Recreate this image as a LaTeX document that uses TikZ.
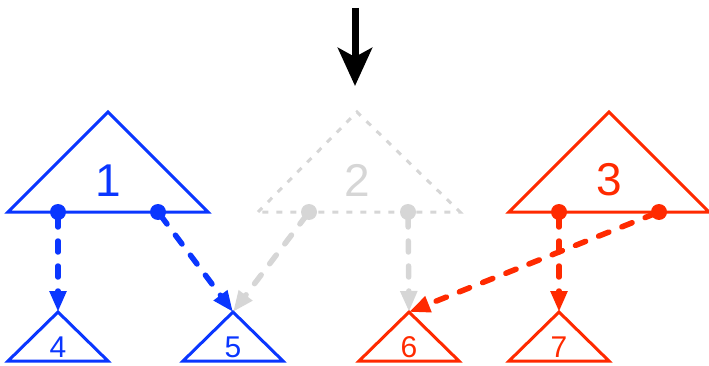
\documentclass[tikz,border=0pt]{standalone}
\usepackage{fontspec}
\setmainfont{Liberation Sans}
\usetikzlibrary{arrows.meta}
\definecolor{cblue}{HTML}{0A36FF}
\definecolor{cred}{HTML}{FF2A00}
\definecolor{cgray}{HTML}{D6D6D6}
\begin{document}
\begin{tikzpicture}[x=1pt,y=-1pt,
  tri/.style={line width=3pt,line join=miter},
  gtri/.style={line width=3pt,cgray,dash pattern=on 6pt off 8pt},
  dot/.style={circle,fill,inner sep=0pt,minimum size=16pt},
  link/.style={line width=5.5pt,line cap=round,dash pattern=on 11pt off 14pt,
    -{Triangle[length=21pt,width=16pt,line cap=butt]},shorten <=4pt},
  big/.style={font=\fontsize{46}{46}\selectfont,inner sep=0pt},
  small/.style={font=\fontsize{30}{30}\selectfont,inner sep=0pt}]
\useasboundingbox (0,0) rectangle (709,366);
% big triangles
\draw[tri,cblue] (8,212) -- (108,112) -- (208,212) -- cycle;
\draw[gtri] (258,212) -- (357,112) -- (460,212) -- cycle;
\draw[tri,cred] (509,212) -- (609,112) -- (709,212) -- cycle;
\node[big,text=cblue] (l1) at (108,181) {1};
\node[big,text=cgray] (l2) at (357,180) {2};
\node[big,text=cred] (l3) at (609,180) {3};
% small triangles
\draw[tri,cblue] (8,361) -- (58,312) -- (108,361) -- cycle;
\draw[tri,cblue] (183,361) -- (233,312) -- (283,361) -- cycle;
\draw[tri,cred] (359,361) -- (409,312) -- (459,361) -- cycle;
\draw[tri,cred] (509,361) -- (559,312) -- (609,361) -- cycle;
\node[small,text=cblue] (l4) at (58,347) {4};
\node[small,text=cblue] (l5) at (233,347) {5};
\node[small,text=cred] (l6) at (409,347) {6};
\node[small,text=cred] (l7) at (559,347) {7};
\coordinate (t4) at (58,312);
\coordinate (t5) at (233,312);
\coordinate (t6) at (409,312);
\coordinate (t7) at (559,312);
% dots
\node[dot,cblue] (d1a) at (58,212) {};
\node[dot,cblue] (d1b) at (158,212) {};
\node[dot,cgray] (d2a) at (309,212) {};
\node[dot,cgray] (d2b) at (408,212) {};
\node[dot,cred] (d3a) at (559,212) {};
\node[dot,cred] (d3b) at (659,212) {};
% links
\draw[link,cgray] (d2a.center) -- (t5);
\draw[link,cgray] (d2b.center) -- (t6);
\draw[link,cblue] (d1a.center) -- (t4);
\draw[link,cblue] (d1b.center) -- (t5);
\draw[link,cred] (d3a.center) -- (t7);
\draw[link,cred] (d3b.center) -- (t6);
% top arrow
\coordinate (a0) at (355,8);
\coordinate (a1) at (355,86);
\draw[line width=7pt,-{Stealth[length=38pt,width=34pt,inset=9pt]}] (a0) -- (a1);
\end{tikzpicture}
\end{document}
